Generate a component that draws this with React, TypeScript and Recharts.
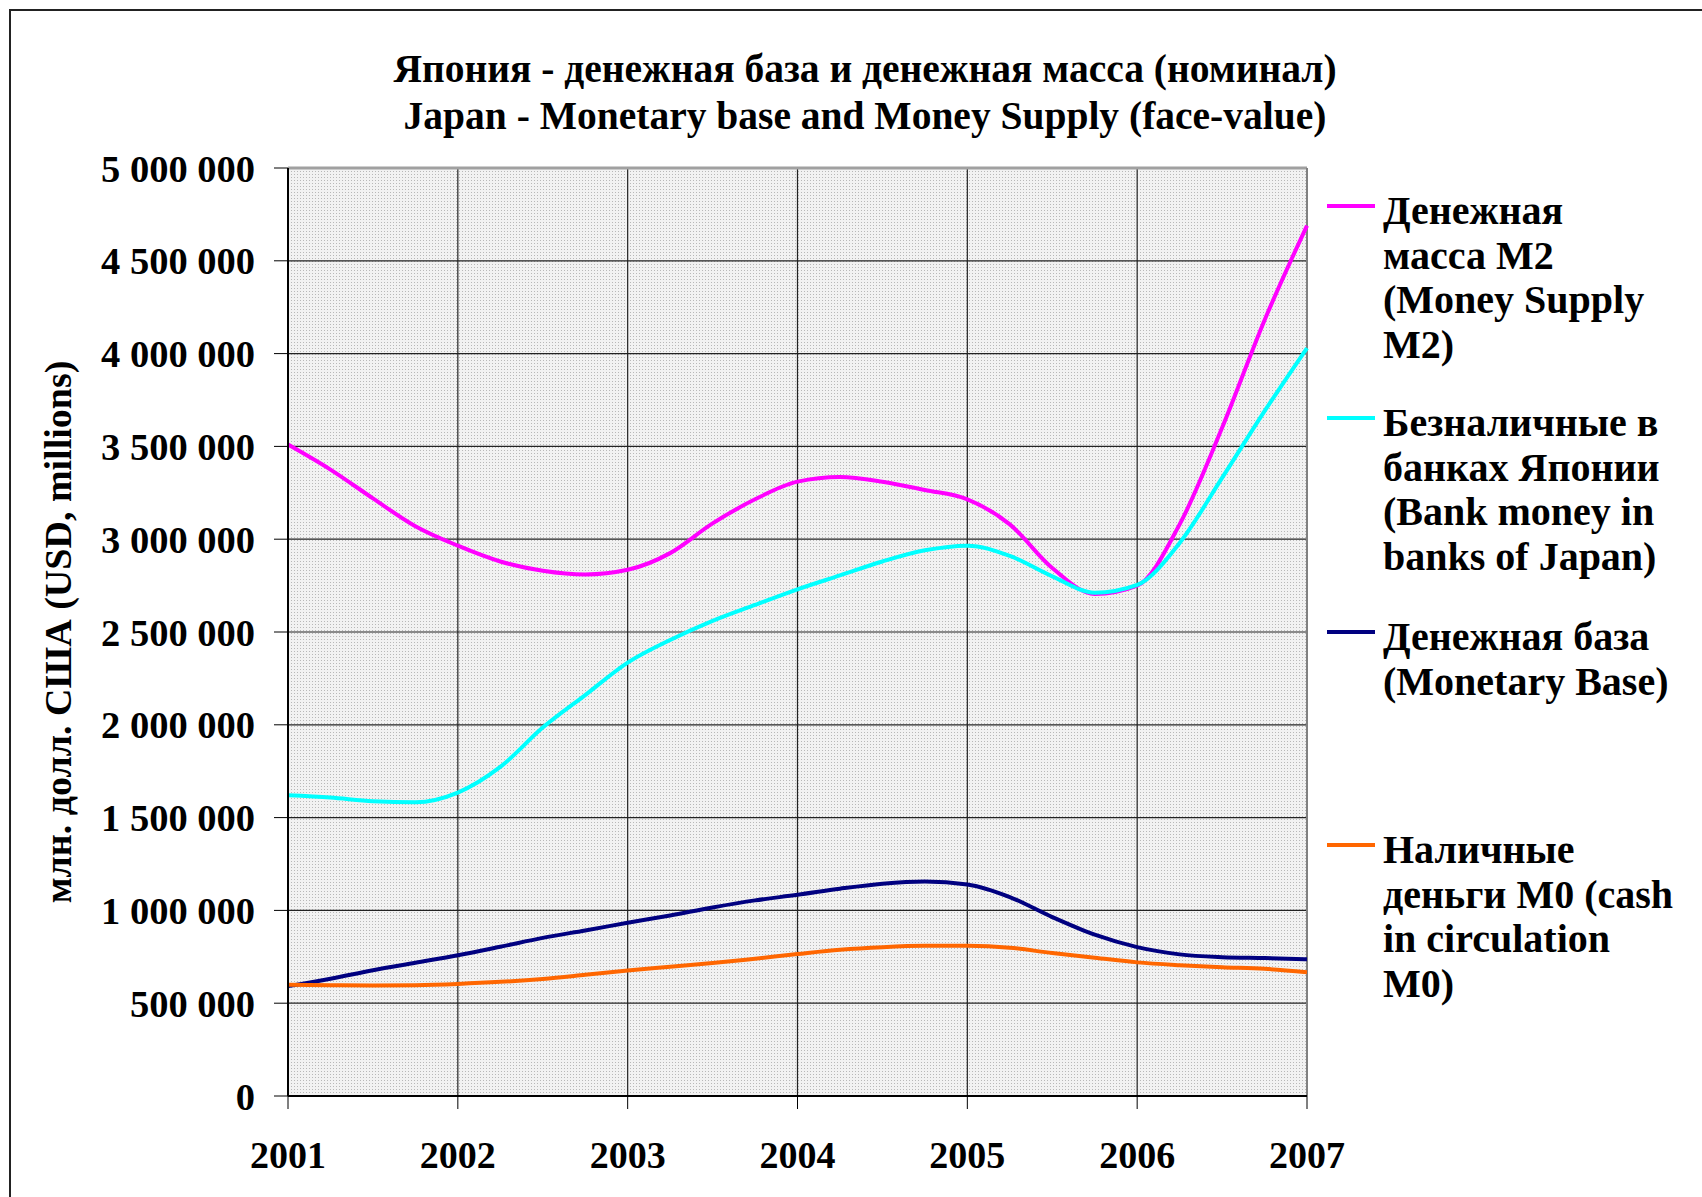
import React from 'react'
import {
    LineChart,
    Line,
    XAxis,
    YAxis,
    CartesianGrid,
    Legend,
    ReferenceLine,
} from 'recharts'

// quarterly readings, USD millions
const periods = [
    2001, 2001.25, 2001.5, 2001.75,
    2002, 2002.25, 2002.5, 2002.75,
    2003, 2003.25, 2003.5, 2003.75,
    2004, 2004.25, 2004.5, 2004.75,
    2005, 2005.25, 2005.5, 2005.75,
    2006, 2006.25, 2006.5, 2006.75,
    2007,
]

const moneySupplyM2 = [
    3510000, 3375000, 3220000, 3070000,
    2965000, 2880000, 2830000, 2810000,
    2835000, 2925000, 3085000, 3215000,
    3310000, 3335000, 3310000, 3265000,
    3215000, 3080000, 2845000, 2705000,
    2750000, 3080000, 3600000, 4180000,
    4690000,
]

const bankMoney = [
    1620000, 1608000, 1588000, 1583000,
    1635000, 1773000, 1985000, 2160000,
    2335000, 2457000, 2560000, 2646000,
    2730000, 2805000, 2880000, 2940000,
    2965000, 2910000, 2800000, 2712000,
    2754000, 2980000, 3330000, 3690000,
    4030000,
]

const monetaryBase = [
    592000, 632000, 678000, 718000,
    758000, 804000, 852000, 892000,
    933000, 973000, 1016000, 1054000,
    1084000, 1117000, 1144000, 1156000,
    1140000, 1072000, 964000, 869000,
    802000, 763000, 748000, 743000,
    737000,
]

const cashM0 = [
    600000, 597000, 595000, 597000,
    604000, 615000, 631000, 653000,
    676000, 696000, 716000, 740000,
    765000, 788000, 802000, 809000,
    809000, 799000, 770000, 745000,
    720000, 705000, 694000, 685000,
    667000,
]

const yearTicks = [2001, 2002, 2003, 2004, 2005, 2006, 2007]
const valueTicks = [0, 500000, 1000000, 1500000, 2000000, 2500000, 3000000, 3500000, 4000000, 4500000, 5000000]

const SERIES = [
    { key: 'm2', name: 'Денежная масса M2 (Money Supply M2)', color: '#FF00FF', lines: ['Денежная', 'масса M2', '(Money Supply', 'M2)'] },
    { key: 'bank', name: 'Безналичные в банках Японии (Bank money in banks of Japan)', color: '#00FFFF', lines: ['Безналичные в', 'банках Японии', '(Bank money in', 'banks of Japan)'] },
    { key: 'base', name: 'Денежная база (Monetary Base)', color: '#000080', lines: ['Денежная база', '(Monetary Base)'] },
    { key: 'cash', name: 'Наличные деньги M0 (cash in circulation M0)', color: '#FF6600', lines: ['Наличные', 'деньги M0 (cash', 'in circulation', 'M0)'] },
]

const data = periods.map((p, i) => ({
    period: p,
    m2: moneySupplyM2[i],
    bank: bankMoney[i],
    base: monetaryBase[i],
    cash: cashM0[i],
}))

const FONT = "'Liberation Serif', 'Times New Roman', serif"
const LEGEND_TOPS = [1, 213, 427, 640]

const fmt = (v: number) => String(v).replace(/\B(?=(\d{3})+(?!\d))/g, ' ')

// zero-height box so the legend does not eat into the plot area
const LegendBox = () => (
    <div style={{ position: 'relative', width: 370, height: 0, overflow: 'visible', fontFamily: FONT, fontWeight: 'bold', fontSize: 40, lineHeight: '44.5px', color: '#000' }}>
        {SERIES.map((s, i) => (
            <div key={s.key} style={{ position: 'absolute', left: 0, top: LEGEND_TOPS[i], whiteSpace: 'nowrap' }}>
                <div style={{ position: 'absolute', left: 1, top: 15, width: 48, height: 4, background: s.color }} />
                <div style={{ marginLeft: 57 }}>
                    {s.lines.map((l, j) => <div key={j}>{l}</div>)}
                </div>
            </div>
        ))}
    </div>
)

export default function App() {
    return (
        <div style={{ position: 'absolute', left: 0, top: 0, width: 1702, height: 1197, overflow: 'hidden', background: '#fff' }}>
            <div style={{ position: 'absolute', left: 9, top: 9, width: 1800, height: 1300, borderLeft: '2px solid #222', borderTop: '2px solid #222' }} />
            <div style={{ position: 'absolute', left: 365, top: 46, width: 1000, textAlign: 'center', fontFamily: FONT, fontWeight: 'bold', fontSize: 39.5, lineHeight: '47px', color: '#000' }}>
                <div>Япония - денежная база и денежная масса (номинал)</div>
                <div>Japan - Monetary base and Money Supply (face-value)</div>
            </div>
            <div style={{ position: 'absolute', left: 0, top: 0 }}>
                <LineChart width={1702} height={1197} data={data} margin={{ top: 168, right: 395, bottom: 0, left: 0 }}>
                    <defs>
                        <pattern id="dots" width="3" height="3" patternUnits="userSpaceOnUse">
                            <rect width="3" height="3" fill="#f2f2f2" />
                            <rect width="1" height="1" fill="#b8b8b8" />
                        </pattern>
                    </defs>
                    <CartesianGrid stroke="#222" strokeWidth={1.2} fill="url(#dots)" />
                    <XAxis
                        type="number"
                        dataKey="period"
                        domain={[2001, 2007]}
                        ticks={yearTicks}
                        interval={0}
                        height={101}
                        tickSize={13}
                        tickMargin={32}
                        axisLine={{ stroke: '#000', strokeWidth: 2 }}
                        tickLine={{ stroke: '#000' }}
                        tick={{ fill: '#000', fontFamily: FONT, fontWeight: 'bold', fontSize: 38 }}
                        tickFormatter={(v: number) => String(v)}
                    />
                    <YAxis
                        domain={[0, 5000000]}
                        ticks={valueTicks}
                        interval={0}
                        width={288}
                        tickSize={14}
                        tickMargin={19}
                        axisLine={{ stroke: '#000', strokeWidth: 2 }}
                        tickLine={{ stroke: '#000' }}
                        tick={{ fill: '#000', fontFamily: FONT, fontWeight: 'bold', fontSize: 38.5 }}
                        tickFormatter={fmt}
                        label={{
                            value: 'млн. долл. США (USD, millions)',
                            angle: -90,
                            position: 'insideLeft',
                            offset: 58,
                            style: { textAnchor: 'middle', fill: '#000', fontFamily: FONT, fontWeight: 'bold', fontSize: 38 },
                        }}
                    />
                    <ReferenceLine y={5000000} stroke="#a0a0a0" strokeWidth={3} />
                    <ReferenceLine x={2007} stroke="#808080" strokeWidth={2} />
                    {SERIES.map(s => (
                        <Line
                            key={s.key}
                            type="monotone"
                            dataKey={s.key}
                            name={s.name}
                            stroke={s.color}
                            strokeWidth={4}
                            dot={false}
                            activeDot={false}
                            isAnimationActive={false}
                        />
                    ))}
                    <Legend
                        content={() => <LegendBox />}
                        wrapperStyle={{ left: 1326, top: 188, width: 376, height: 0 }}
                    />
                </LineChart>
            </div>
        </div>
    )
}
